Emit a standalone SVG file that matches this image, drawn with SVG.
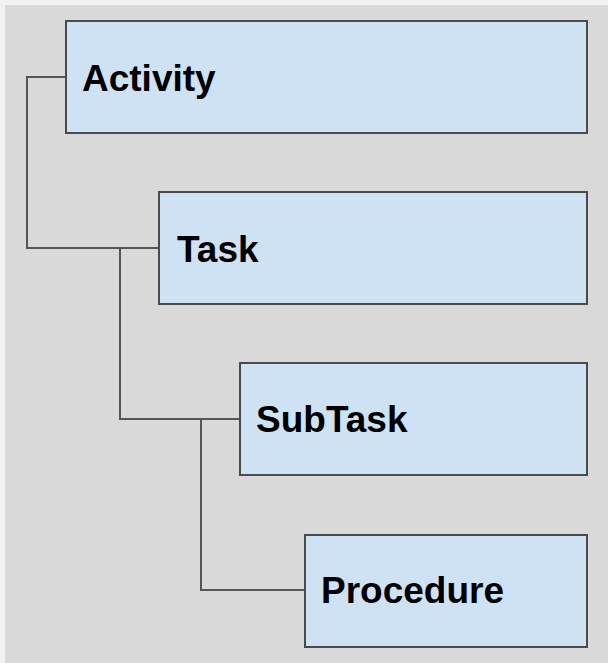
<svg xmlns="http://www.w3.org/2000/svg" width="608" height="663" viewBox="0 0 608 663">
<style>
.box{fill:#cfe2f3;stroke:#4a4a4a;stroke-width:2}
.lbl{font-family:"Liberation Sans",Arial,sans-serif;font-weight:bold;font-size:37px;fill:#000}
.conn{fill:none;stroke:#555;stroke-width:2}
</style>
<rect x="0" y="0" width="608" height="663" fill="#f2f2f2"/>
<rect x="5" y="5" width="603" height="658" fill="#d9d9d9"/>
<g id="connectors">
<path class="conn" d="M66,77 H27 V248 H159"/>
<path class="conn" d="M120,248 V419 H240"/>
<path class="conn" d="M201,419 V590 H305"/>
</g>
<g id="activity">
<rect class="box" x="66" y="21" width="521" height="112"/>
<text class="lbl" x="82" y="91">Activity</text>
</g>
<g id="task">
<rect class="box" x="159" y="192" width="428" height="112"/>
<text class="lbl" x="177" y="262">Task</text>
</g>
<g id="subtask">
<rect class="box" x="240" y="363" width="347" height="112"/>
<text class="lbl" x="256" y="432">SubTask</text>
</g>
<g id="procedure">
<rect class="box" x="305" y="535" width="282" height="112"/>
<text class="lbl" x="321" y="603">Procedure</text>
</g>
</svg>
